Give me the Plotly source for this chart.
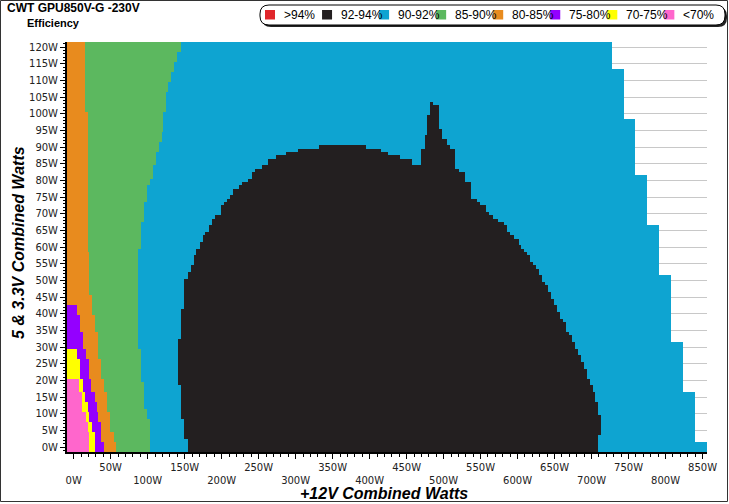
import numpy as np
import plotly.graph_objects as go

# ---------------- data ----------------
class_labels = [">94%", "92-94%", "90-92%", "85-90%", "80-85%", "75-80%", "70-75%", "<70%"]
class_colors = ["#e0262b", "#231f20", "#0ea4d1", "#5cb85f", "#e88b1e", "#9400ff", "#ffff00", "#ff66cc"]

# Left-side region edges per band of 5 & 3.3V load (band starts, W) -> +12V load where region ends (W)
left_y   = [-1.5, 1.7, 4.2, 7.2, 10.2, 13.7, 16.6, 20.1, 24.1, 26.6, 29.1, 34.1, 39.1, 42.6, 45.6, 58.1, 101.0]
pink_x   = [20.3, 20.3, 18.1, 17.2, 11.4, 10.4, 6.8, -9, -9, -9, -9, -9, -9, -9, -9, -9, -9]
yellow_x = [29.3, 28.4, 24.9, 21.6, 18.9, 15.8, 13.5, 10.0, 10.0, 5.4, -9, -9, -9, -9, -9, -9, -9]
purple_x = [41.5, 37.4, 36.1, 33.8, 30.3, 28.4, 22.6, 20.3, 20.3, 17.2, 13.5, 10.0, 5.9, -9, -9, -9, -9]
orange_x = [57.3, 54.1, 49.6, 49.6, 45.1, 45.1, 40.5, 37.0, 36.1, 33.0, 33.0, 28.4, 24.9, 24.9, 20.3, 18.1, 14.5]

# 85-90% / 90-92% edge
green_y = [-1.5, 8.2, 11.2, 19.3, 29.1, 59.6, 67.1, 73.4, 78.5, 80.9, 84.5, 88.1, 92.0, 95.0, 101.0, 107.0, 110.0, 112.4, 115.4, 118.7]
green_x = [102.3, 98.2, 94.6, 90.1, 86.5, 90.1, 94.6, 99.2, 102.3, 106.8, 110.4, 114.9, 118.5, 121.6, 124.9, 128.0, 132.0, 134.7, 138.8, 145.5]

# last measured +12V load (end of 90-92% area)
blue_y = [-1.5, 1.6, 16.6, 31.5, 51.6, 66.6, 81.5, 98.8, 114.0]
blue_x = [856.0, 838.8, 822.1, 806.4, 791.5, 774.8, 759.0, 742.4, 726.6]

# 92-94% area, column by column: +12V edges, top and bottom of the area (5 & 3.3V W)
black_edges = [141.9, 145.5, 149.6, 154.1, 158.6, 162.2, 165.8, 170.3, 174.3, 178.0, 182.4, 187.0, 190.1,
               198.2, 202.7, 206.4, 210.8, 215.4, 223.0, 227.6, 235.1, 241.1, 245.5, 254.6, 262.2, 273.9,
               286.1, 302.3, 331.1, 376.2, 394.2, 414.5, 425.3, 441.5, 456.4, 469.9, 474.3, 478.0, 482.0,
               485.1, 492.4, 496.5, 504.6, 509.1, 515.8, 521.2, 529.3, 537.4, 545.1, 549.6, 557.3, 561.8,
               567.6, 573.0, 580.3, 584.7, 589.2, 595.5, 600.5, 604.6, 608.1, 612.7, 617.2, 620.8, 625.3,
               629.7, 633.8, 637.4, 641.1, 645.1, 649.6, 653.2, 656.8, 661.4, 665.8, 668.9, 673.5, 677.0,
               680.3, 684.7, 688.4, 692.4, 696.9, 700.5, 704.1, 708.6, 713.1]
black_top = [32.1, 41.1, 50.1, 52.5, 54.6, 57.3, 59.6, 61.1, 63.6, 64.6, 66.0, 68.3, 69.6, 72.0, 73.4, 74.6,
             75.7, 77.0, 78.3, 79.5, 80.7, 82.0, 83.2, 84.7, 86.0, 87.2, 88.3, 89.5, 90.8, 90.2, 89.6, 88.5,
             87.2, 86.0, 84.5, 89.5, 93.5, 99.0, 103.3, 102.5, 95.2, 92.0, 90.8, 89.5, 83.6, 82.1, 79.7,
             74.6, 73.1, 72.2, 70.7, 69.5, 68.4, 67.2, 66.0, 64.5, 63.3, 62.1, 60.9, 59.8, 58.3, 57.1, 55.9,
             54.7, 53.5, 51.1, 49.6, 48.4, 46.0, 44.8, 42.1, 40.9, 38.5, 37.3, 34.6, 33.3, 31.2, 29.7, 27.1,
             25.8, 23.4, 20.7, 18.4, 16.0, 13.3, 9.7]
black_bottom_exceptions = {0: 18.1, 1: 8.2, 2: 2.2, 85: 3.1}

y_tick_vals = [0, 5, 10, 15, 20, 25, 30, 35, 40, 45, 50, 55, 60, 65, 70, 75, 80, 85, 90, 95, 100, 105, 110, 115, 120]
y_tick_labels = ["0W", "5W", "10W", "15W", "20W", "25W", "30W", "35W", "40W", "45W", "50W", "55W", "60W",
                 "65W", "70W", "75W", "80W", "85W", "90W", "95W", "100W", "105W", "110W", "115W", "120W"]
x_tick_vals = [0, 50, 100, 150, 200, 250, 300, 350, 400, 450, 500, 550, 600, 650, 700, 750, 800, 850]
x_tick_labels = ["0W", "50W", "100W", "150W", "200W", "250W", "300W", "350W", "400W", "450W", "500W",
                 "550W", "600W", "650W", "700W", "750W", "800W", "850W"]

# ---------------- build the grid ----------------
xc = np.arange(-8, 857, 2.0)
yc = np.arange(-1, 122, 1.0)


def step(ys, vals, y):
    i = int(np.searchsorted(np.array(ys), y, side="right")) - 1
    return vals[max(i, 0)]


Z = np.full((len(yc), len(xc)), np.nan)
for r, y in enumerate(yc):
    bp = step(left_y, pink_x, y)
    byl = step(left_y, yellow_x, y)
    bpu = step(left_y, purple_x, y)
    bo = step(left_y, orange_x, y)
    bg = step(green_y, green_x, y)
    bb = step(blue_y, blue_x, y)
    row = np.where(xc < bp, 7, np.where(xc < byl, 6, np.where(xc < bpu, 5, np.where(
        xc < bo, 4, np.where(xc < bg, 3, np.where(xc < bb, 2, np.nan))))))
    Z[r] = row

for i in range(len(black_top)):
    x0, x1 = black_edges[i], black_edges[i + 1]
    bot = black_bottom_exceptions.get(i, -1.5)
    cm = (xc >= x0) & (xc < x1)
    rm = (yc >= bot) & (yc <= black_top[i])
    Z[np.ix_(rm, cm)] = 1

colorscale = []
n = len(class_colors)
for i, c in enumerate(class_colors):
    colorscale.append([i / n, c])
    colorscale.append([(i + 1) / n, c])

fig = go.Figure()
fig.add_trace(go.Heatmap(x=xc, y=yc, z=Z, zmin=-0.5, zmax=n - 0.5, colorscale=colorscale,
                         showscale=False, hoverinfo="skip", zsmooth=False))

# ---------------- layout ----------------
L, R, T, B = 67, 707, 42, 452
W, H = 729, 504


def px(x):
    return (x - L) / (R - L)


def py(y):
    return (B - y) / (B - T)


x_text = [lab if i % 2 else "<br>" + lab for i, lab in enumerate(x_tick_labels)]
tickfont = dict(family="DejaVu Sans", size=10, color="#222")

fig.update_layout(
    width=W, height=H, margin=dict(l=L, r=W - R, t=T, b=H - B),
    paper_bgcolor="white", plot_bgcolor="white", showlegend=False,
    xaxis=dict(range=[-9, 856], tickvals=x_tick_vals, ticktext=x_text, ticks="outside", ticklen=5,
               tickcolor="black", showline=True, linecolor="black", linewidth=2, showgrid=False,
               zeroline=False, tickfont=tickfont,
               minor=dict(dtick=10, ticks="outside", ticklen=3, tickcolor="black", showgrid=False)),
    yaxis=dict(range=[-1.5, 121.5], tickvals=y_tick_vals, ticktext=y_tick_labels, ticks="outside",
               ticklen=5, tickcolor="black", showline=True, linecolor="black", linewidth=2,
               showgrid=True, gridcolor="#c8c8c8", gridwidth=1, zeroline=False, tickfont=tickfont,
               minor=dict(dtick=1, ticks="outside", ticklen=2, tickcolor="black", showgrid=False)),
)

ann = []
shapes = []
bold = "Liberation Sans"
ann.append(dict(text="<b>CWT GPU850V-G -230V</b>", x=px(5), y=py(8), xref="paper", yref="paper",
                xanchor="left", yanchor="middle", showarrow=False, font=dict(family=bold, size=12, color="black")))
ann.append(dict(text="<b>Efficiency</b>", x=px(25), y=py(23), xref="paper", yref="paper",
                xanchor="left", yanchor="middle", showarrow=False, font=dict(family=bold, size=11, color="black")))
ann.append(dict(text="<b><i>+12V Combined Watts</i></b>", x=px(384), y=py(493), xref="paper", yref="paper",
                xanchor="center", yanchor="middle", showarrow=False, font=dict(family=bold, size=16, color="black")))
ann.append(dict(text="<b><i>5 & 3.3V Combined Watts</i></b>", x=px(18), y=py(243), xref="paper", yref="paper",
                xanchor="center", yanchor="middle", showarrow=False, textangle=-90,
                font=dict(family=bold, size=16, color="black")))


def rounded(x0, y0, x1, y1, r):
    pts = [("M", x0 + r, y0), ("L", x1 - r, y0), ("Q", x1, y0, x1, y0 + r), ("L", x1, y1 - r),
           ("Q", x1, y1, x1 - r, y1), ("L", x0 + r, y1), ("Q", x0, y1, x0, y1 - r), ("L", x0, y0 + r),
           ("Q", x0, y0, x0 + r, y0)]
    s = ""
    for p in pts:
        if p[0] == "Q":
            s += "Q%.5f,%.5f %.5f,%.5f " % (px(p[1]), py(p[2]), px(p[3]), py(p[4]))
        else:
            s += "%s%.5f,%.5f " % (p[0], px(p[1]), py(p[2]))
    return s + "Z"


shapes.append(dict(type="path", path=rounded(262, 7, 727, 27, 9), xref="paper", yref="paper",
                   fillcolor="#222", line=dict(width=0), layer="above"))
shapes.append(dict(type="path", path=rounded(260, 5, 725, 25, 9), xref="paper", yref="paper",
                   fillcolor="white", line=dict(color="black", width=1), layer="above"))
for i, (lab, col) in enumerate(zip(class_labels, class_colors)):
    x0 = 265 + i * 57.05
    shapes.append(dict(type="rect", x0=px(x0), x1=px(x0 + 10), y0=py(10), y1=py(19.5), xref="paper",
                       yref="paper", fillcolor=col, line=dict(width=0), layer="above"))
    ann.append(dict(text=lab, x=px(x0 + 16.5), y=py(15), xref="paper", yref="paper", xanchor="left",
                    yanchor="middle", showarrow=False, font=dict(family=bold, size=12, color="black")))

# outer frame of the picture
shapes.append(dict(type="rect", x0=px(0.5), x1=px(727.5), y0=py(0.5), y1=py(501.5), xref="paper", yref="paper",
                   line=dict(color="#333", width=1), layer="above"))

fig.update_layout(annotations=ann, shapes=shapes)
fig.write_html("out.html", config={"displayModeBar": False},
               post_script="document.body.style.margin='0';document.body.style.overflow='hidden';")
